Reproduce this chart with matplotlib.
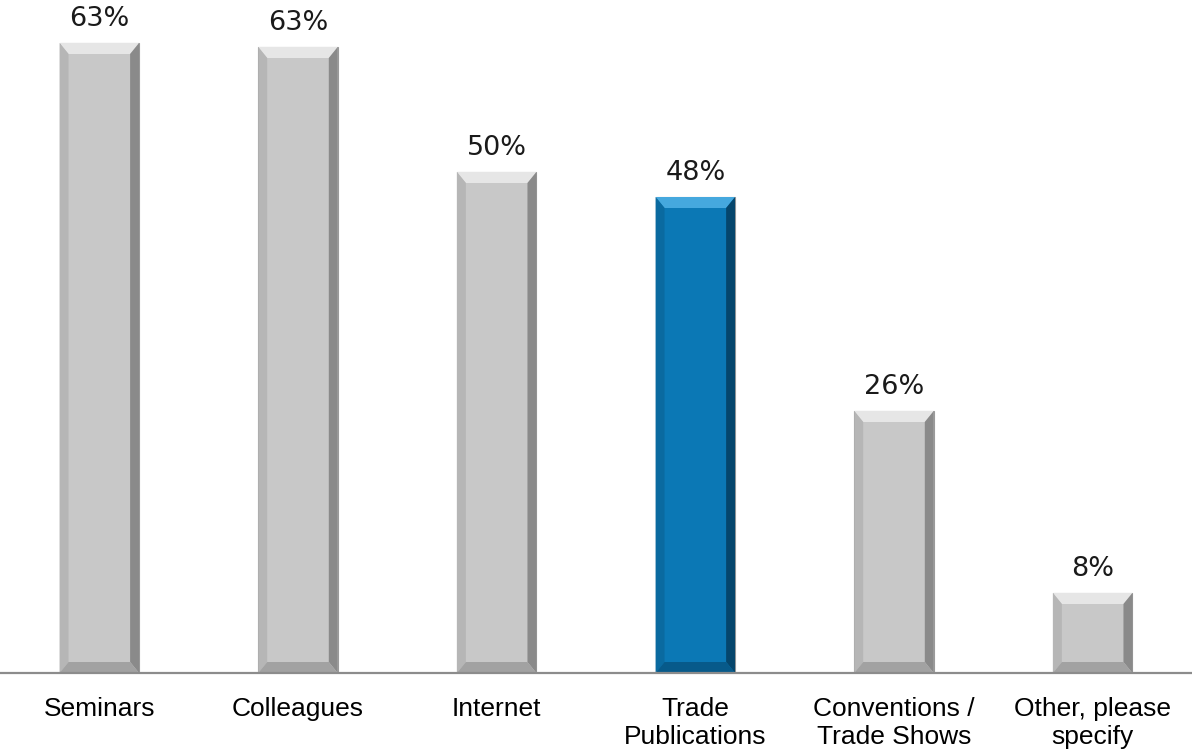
import matplotlib.pyplot as plt
from matplotlib.patches import Polygon

categories = ['Seminars', 'Colleagues', 'Internet', 'Trade\nPublications',
              'Conventions /\nTrade Shows', 'Other, please\nspecify']
values = [63.0, 62.6, 50.1, 47.6, 26.2, 8.0]
highlight = 'Trade\nPublications'

# face, top bevel, left bevel, right bevel, bottom bevel
gray = ('#c8c8c8', '#e6e6e6', '#b6b6b6', '#8a8a8a', '#a2a2a2')
blue = ('#0b78b5', '#45a8de', '#0a6aa0', '#05466c', '#075a8a')

fig = plt.figure(figsize=(11.92, 7.5), dpi=100)
ax = fig.add_axes([0, 77 / 750, 1, 673 / 750])

x = range(len(categories))
bars = ax.bar(x, values, width=0.4, color=gray[0], edgecolor='#9a9a9a',
              linewidth=0.8, zorder=2)

dx = 0.045
dy = 1.1
for bar, cat, v in zip(bars, categories, values):
    shades = blue if cat == highlight else gray
    bar.set_facecolor(shades[0])
    x0, w, h = bar.get_x(), bar.get_width(), bar.get_height()
    x1 = x0 + w
    faces = [
        ([(x0, h), (x1, h), (x1 - dx, h - dy), (x0 + dx, h - dy)], shades[1]),
        ([(x0, 0), (x0, h), (x0 + dx, h - dy), (x0 + dx, dy)], shades[2]),
        ([(x1, 0), (x1, h), (x1 - dx, h - dy), (x1 - dx, dy)], shades[3]),
        ([(x0, 0), (x1, 0), (x1 - dx, dy), (x0 + dx, dy)], shades[4]),
    ]
    for pts, c in faces:
        ax.add_patch(Polygon(pts, closed=True, facecolor=c, edgecolor='none', zorder=3))
    ax.annotate(f'{v:.0f}%', (bar.get_x() + w / 2, h), xytext=(0, 8),
                textcoords='offset points', ha='center', va='bottom',
                fontsize=19.5, family='DejaVu Sans', color='#1a1a1a')

ax.set_xlim(-0.5, len(categories) - 0.5)
ax.set_ylim(0, 67.3)
ax.set_xticks(list(x))
ax.set_xticklabels(categories, fontsize=19, family='Liberation Sans',
                   linespacing=1.25, va='top')
ax.tick_params(axis='x', length=0, pad=17)
ax.set_yticks([])
for side in ['left', 'right', 'top']:
    ax.spines[side].set_visible(False)
ax.spines['bottom'].set_color('#8c8c8c')
ax.spines['bottom'].set_linewidth(1.6)
ax.spines['bottom'].set_zorder(4)

fig.savefig('out.png', dpi=100)
